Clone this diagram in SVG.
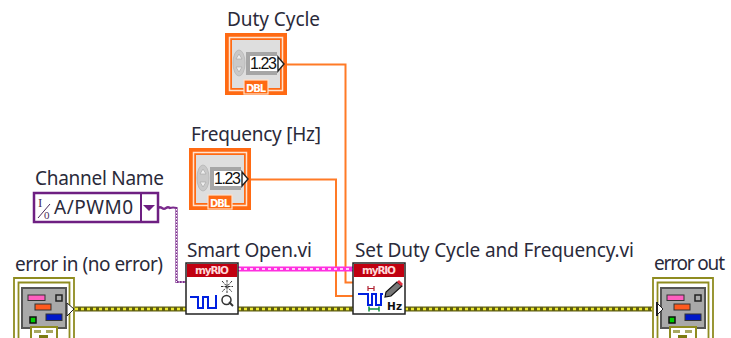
<svg xmlns="http://www.w3.org/2000/svg" width="731" height="338" viewBox="0 0 731 338">
<style>
text{font-family:"Noto Sans","Open Sans","Liberation Sans",sans-serif;fill:#2a2a3a}
.lbl{font-size:19px}
.o{fill:none;stroke:#ff7a26;stroke-width:2}
.tile{fill:#ff6a13}
.y1{fill:none;stroke:#5f5e10;stroke-width:5}
.y2{fill:none;stroke:#ece830;stroke-width:2.500;stroke-dasharray:3 3}
.hdr{font-size:10.500px;font-weight:700;fill:#ffd8d8;font-family:"DejaVu Sans",sans-serif}
</style>
<defs>
<g id="num">
<rect x="0" y="0" width="62" height="62" class="tile"/>
<rect x="4.500" y="4.500" width="53" height="53" fill="#ff6a13" stroke="#ffe3cf" stroke-width="1.500"/>
<rect x="7" y="7" width="48" height="48" fill="#dedede"/>
<rect x="21" y="19" width="31" height="23" fill="#a6a6a6"/>
<rect x="25" y="23" width="28" height="15" fill="#fff"/>
<ellipse cx="14" cy="30" rx="6" ry="13" fill="#c9c9c9" stroke="#bcbcbc"/>
<path d="M11 26l3-5 3 5zM11 34l3 5 3-5z" fill="#eee" stroke="#aaa" stroke-width=".7"/>
<text x="25" y="36" style="font-family:'Liberation Sans',sans-serif;font-size:16px;fill:#111" textLength="27">1.23</text>
<path d="M53 24l6 7-6 7z" fill="#fff" stroke="#222" stroke-width="1.400"/>
<rect x="19" y="47" width="24" height="14" fill="#ff6a13" stroke="#ffe0c8" stroke-width="1.200"/>
<text x="21" y="58.500" style="font-family:'DejaVu Sans',sans-serif;font-size:10px;font-weight:700;fill:#fff" textLength="20">DBL</text>
</g>
<g id="err">
<rect x="0" y="0" width="62" height="66" fill="#fff" stroke="none"/>
<path d="M1 66V1H61V66" fill="#fff" stroke="#8f8c20" stroke-width="1.800"/>
<path d="M5.500 66V5.500H56.500V66" fill="#fff" stroke="#8f8c20" stroke-width="1.800"/>
<rect x="9" y="11" width="44" height="40" fill="#a9a9a9" stroke="#555" stroke-width="2"/>
<rect x="15" y="18" width="17" height="5.500" fill="#ff5fc0" stroke="#333"/>
<rect x="43" y="18" width="6" height="6" fill="#a9a9a9" stroke="#222" stroke-width="1.500"/>
<rect x="22" y="27" width="16" height="6" fill="#ff5a1e" stroke="#333"/>
<rect x="17" y="40" width="6" height="6" fill="#00d000" stroke="#111" stroke-width="1.500"/>
<rect x="33" y="37" width="16" height="6.500" fill="#0018c8" stroke="#333"/>
<rect x="18" y="50" width="26" height="16" fill="#fff" stroke="#8f8c20" stroke-width="2"/>
<rect x="21" y="53" width="7" height="3" fill="#a8a860"/><rect x="33" y="53" width="7" height="3" fill="#a8a860"/>
<rect x="26" y="58" width="9" height="8" fill="#7c7a10"/>
</g>
</defs>
<g id="connectors">
<path class="o" d="M284 64.500H345.500V282.500H353"/>
<path class="o" d="M248 179.500H336V296H353"/>
<path d="M158 208q2-1.500 4 0t4 0t4 0q3-1 6.500 0V282H186" fill="none" stroke="#7a2a8c" stroke-width="2.200"/>
<path d="M176.500 209V282H186" fill="none" stroke="#fff" stroke-width="1" stroke-dasharray="1.500 1.500"/>
<path d="M238 269H353" fill="none" stroke="#ff30e0" stroke-width="5"/>
<path d="M238 269H353" fill="none" stroke="#fff" stroke-width="1.500" stroke-dasharray="3 3"/>
<path class="y1" d="M75 309H186M238 309H353M405 309H652"/>
<path class="y2" d="M75 309H186M238 309H353M405 309H652"/>
</g>
<g id="duty-cycle"><text class="lbl" x="227" y="26" textLength="93">Duty Cycle</text><use href="#num" x="225" y="33"/></g>
<g id="frequency"><text class="lbl" x="191" y="141" textLength="130">Frequency [Hz]</text><use href="#num" x="189" y="148"/></g>
<g id="channel-name">
<text class="lbl" x="35" y="185" textLength="129">Channel Name</text>
<rect x="34" y="193" width="124" height="29" fill="#fff" stroke="#6e1f82" stroke-width="2.500"/>
<path d="M141 193V222" stroke="#6e1f82" stroke-width="2"/>
<path d="M143 205h12l-6 6z" fill="#6e1f82"/>
<text x="38" y="207" style="font-family:'Liberation Serif',serif;font-size:13px;fill:#4a2a5a">I</text>
<path d="M38 218L50 204" stroke="#4a2a5a" stroke-width="1"/>
<text x="44" y="219" style="font-family:'Liberation Serif',serif;font-size:11px;fill:#4a2a5a">0</text>
<text x="54" y="214" style="font-size:19px" textLength="79">A/PWM0</text>
</g>
<g id="error-in">
<text class="lbl" x="15" y="271" textLength="148">error in (no error)</text>
<use href="#err" x="13" y="277"/>
<path d="M67 303l7 6-7 7z" fill="#fff" stroke="#222"/>
</g>
<g id="smart-open">
<text class="lbl" x="187" y="257" textLength="125">Smart Open.vi</text>
<rect x="186" y="263" width="52" height="51" fill="#fff" stroke="#222" stroke-width="1.500"/>
<rect x="187" y="264" width="50" height="13" fill="#c00010"/>
<text class="hdr" x="195" y="274" textLength="34">myRIO</text>
<path d="M190 297H198V308H203V297H208V308H216V295" fill="none" stroke="#0020e0" stroke-width="2"/>
<path d="M222 281l10 11M232 281l-10 11M227 280v13M221 286.500h12" stroke="#333" stroke-width="1" stroke-dasharray="2.500 1"/>
<circle cx="226.500" cy="300" r="4.500" fill="none" stroke="#333" stroke-width="1.500"/>
<path d="M229 302l4 4" stroke="#333" stroke-width="2"/>
</g>
<g id="set-duty-cycle">
<text class="lbl" x="355" y="257" textLength="279">Set Duty Cycle and Frequency.vi</text>
<rect x="353" y="263" width="52" height="51" fill="#fff" stroke="#222" stroke-width="1.500"/>
<rect x="354" y="264" width="50" height="13" fill="#c00010"/>
<text class="hdr" x="362" y="274" textLength="34">myRIO</text>
<path d="M358 294H368V305H372V294H376V305H381V294H383" fill="none" stroke="#0020e0" stroke-width="2"/>
<path d="M368 288.500h6M368 286v5M374 286v5" stroke="#b02030" stroke-width="1.200"/>
<path d="M369 309h10M369 306.500v5M379 306.500v5" stroke="#109040" stroke-width="1.500"/>
<path d="M385 297l1-5 11-10 5 4-11 10z" fill="#777" stroke="#111" stroke-width="1.200"/>
<path d="M397 282l2-2 4 4-2 2z" fill="#e03040"/>
<text x="387" y="310" style="font-family:'DejaVu Sans',sans-serif;font-size:10.500px;font-weight:700;fill:#111" textLength="15">Hz</text>
</g>
<g id="error-out">
<text class="lbl" x="654" y="270" textLength="71">error out</text>
<use href="#err" x="652" y="277"/>
<path d="M657 303l6 6-6 6z" fill="#fff" stroke="#222"/>
<path d="M657 302v14" stroke="#222" stroke-width="2"/>
</g>
</svg>
